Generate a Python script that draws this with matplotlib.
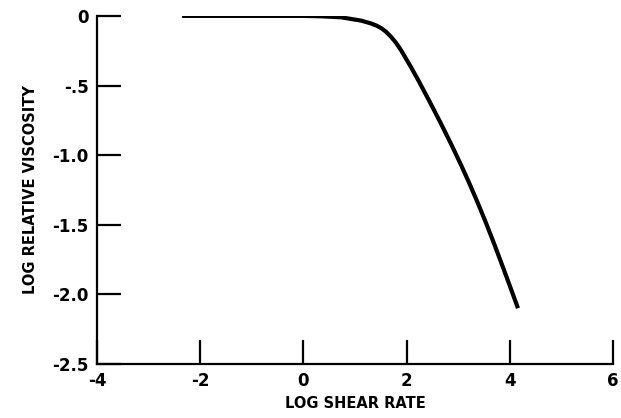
import matplotlib
matplotlib.use("Agg")
from matplotlib import pyplot as plt

# curve
shear = [-2.35, -1.0, 0.0, 0.35, 0.73, 1.12, 1.3, 1.42, 1.51, 1.60, 1.70, 1.80, 1.90, 2.09, 2.24, 2.45, 2.67, 2.86, 3.06, 3.22, 3.38, 3.52, 3.67, 3.83, 4.0, 4.16]
visc = [0.0, 0.0, 0.0, -0.003, -0.01, -0.034, -0.053, -0.070, -0.088, -0.113, -0.15, -0.195, -0.25, -0.37, -0.47, -0.617, -0.775, -0.917, -1.073, -1.204, -1.342, -1.468, -1.609, -1.766, -1.936, -2.099]

xticks = [-4, -2, 0, 2, 4, 6]
xlabels = ["-4", "-2", "0", "2", "4", "6"]
yticks = [0, -0.5, -1.0, -1.5, -2.0, -2.5]
ylabels = ["0", "-.5", "-1.0", "-1.5", "-2.0", "-2.5"]

plt.rcParams['font.family'] = ['DejaVu Sans Condensed', 'DejaVu Sans']

fig = plt.figure(figsize=(6.21, 4.18), dpi=100)
ax = fig.add_axes([0.156, 0.129, 0.831, 0.833])

ax.plot(shear, visc, color="black", linewidth=3, solid_capstyle="butt",
        solid_joinstyle="round")

ax.set_xlim(-4, 6)
ax.set_ylim(-2.5, 0)
ax.set_xticks(xticks)
ax.set_xticklabels(xlabels)
ax.set_yticks(yticks)
ax.set_yticklabels(ylabels)

for s in ["top", "right"]:
    ax.spines[s].set_visible(False)
for s in ["left", "bottom"]:
    ax.spines[s].set_linewidth(1.6)

ax.tick_params(direction="in", length=17, width=1.6, labelsize=12, pad=6)
for lab in ax.get_xticklabels() + ax.get_yticklabels():
    lab.set_fontweight("bold")

ax.set_xlabel("LOG SHEAR RATE", fontsize=10.5, fontweight="bold", labelpad=4)
ax.set_ylabel("LOG RELATIVE VISCOSITY", fontsize=10.5, fontweight="bold", labelpad=10)

fig.savefig("out.png", dpi=100)
